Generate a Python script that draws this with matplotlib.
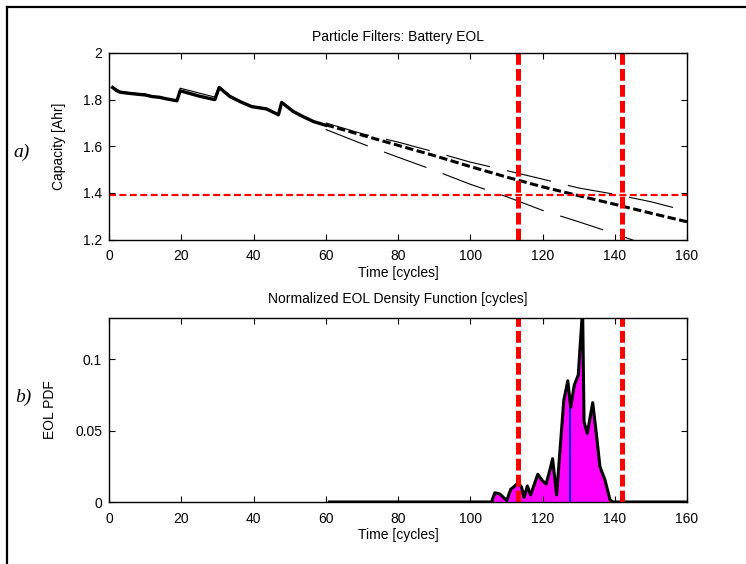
import numpy as np
import matplotlib
matplotlib.use('Agg')
import matplotlib.pyplot as plt
from matplotlib.lines import Line2D

plt.rcParams['font.family'] = ['Liberation Sans', 'DejaVu Sans']
plt.rcParams['font.size'] = 10
plt.rcParams['lines.scale_dashes'] = False

# Measured / filtered capacity history (cycles 1-60)
hist_cycles = [1, 2, 3, 5, 8, 10, 12, 14, 16, 18.8, 19.7, 22, 25, 27, 29.3, 30.5,
               33.5, 36.5, 39.5, 42, 43.6, 46.9, 47.8, 51, 54, 56.6, 60]
hist_cap = [1.852, 1.840, 1.832, 1.828, 1.823, 1.820, 1.813, 1.810, 1.803, 1.795,
            1.838, 1.828, 1.815, 1.808, 1.800, 1.852, 1.813, 1.790, 1.770, 1.764,
            1.760, 1.735, 1.788, 1.749, 1.725, 1.706, 1.690]
hist_thin = [1.856, 1.846, 1.836, 1.831, 1.826, 1.824, 1.815, 1.812, 1.805, 1.797,
             1.849, 1.840, 1.828, 1.820, 1.811, 1.856, 1.818, 1.793, 1.773, 1.767,
             1.763, 1.738, 1.792, 1.752, 1.727, 1.708, 1.692]

# Prediction (mean and bounds)
pred_cycles = [60, 70, 80, 90, 100, 110, 120, 130, 140, 150, 160]
pred_mean = [1.692, 1.648, 1.604, 1.560, 1.513, 1.468, 1.426, 1.388, 1.351, 1.313, 1.276]
pred_upper = [1.700, 1.654, 1.618, 1.576, 1.532, 1.496, 1.459, 1.421, 1.394, 1.362, 1.322]
pred_lower = [1.672, 1.611, 1.553, 1.497, 1.437, 1.384, 1.325, 1.276, 1.225, 1.170, 1.120]

eol_threshold = 1.39
eol_bounds = [113.1, 142.0]
eol_mean = 127.6

# EOL pdf
pdf_cycles = [61, 105.9, 106.8, 108.2, 110.1, 111.2, 112.1, 113.3, 114.2, 114.9,
              115.8, 116.7, 118.7, 119.8, 121.0, 122.1, 122.8, 123.9, 125.9, 127.0,
              127.8, 128.8, 129.9, 131.1, 131.5, 132.4, 133.9, 135.0, 135.9, 137.3,
              138.7, 139.5, 160]
pdf_vals = [0, 0, 0.0065, 0.0056, 0.001, 0.0089, 0.0107, 0.0135, 0.0103, 0.0033,
            0.0112, 0.0049, 0.0194, 0.0154, 0.0126, 0.0229, 0.0303, 0.0049, 0.0713, 0.0848,
            0.0662, 0.0818, 0.0888, 0.135, 0.0562, 0.048, 0.0695, 0.0457, 0.0247, 0.0154,
            0.0014, 0, 0]

fig = plt.figure(figsize=(7.46, 5.64), dpi=100)

# figure frame (left and top edges)
fig.add_artist(Line2D([7 / 746, 7 / 746], [0, 1 - 7 / 564], color='k', lw=1.6, transform=fig.transFigure))
fig.add_artist(Line2D([7 / 746, 1], [1 - 7 / 564, 1 - 7 / 564], color='k', lw=1.6, transform=fig.transFigure))

ax1 = fig.add_axes([109 / 746, 1 - 239.5 / 564, 578 / 746, 186.5 / 564])
ax2 = fig.add_axes([109 / 746, 1 - 502 / 564, 578 / 746, 184 / 564])


def style(ax):
    ax.tick_params(direction='in', top=True, right=True, length=4, width=0.8, labelsize=10)
    ax.tick_params(axis='x', pad=7)
    ax.tick_params(axis='y', pad=5)
    for s in ax.spines.values():
        s.set_linewidth(1.0)


# ---- top panel
ax1.plot(hist_cycles, hist_thin, color='k', lw=0.8)
ax1.plot(hist_cycles, hist_cap, color='k', lw=2.4)
ax1.plot(pred_cycles, pred_upper, color='k', lw=0.8, dashes=(32.5, 12.5))
ax1.plot(pred_cycles, pred_lower, color='k', lw=0.8, dashes=(32.5, 12.5))
ax1.plot(pred_cycles, pred_mean, color='k', lw=2.2, dashes=(6, 2.5))
ax1.axhline(eol_threshold, color='red', lw=1.6, dashes=(5, 2.5))
for xb in eol_bounds:
    ax1.axvline(xb, color='red', lw=3.6, dashes=(8.5, 3))
ax1.set_xlim(0, 160)
ax1.set_ylim(1.2, 2.0)
ax1.set_xticks(np.arange(0, 161, 20))
ax1.set_yticks([1.2, 1.4, 1.6, 1.8, 2.0])
ax1.set_yticklabels(['1.2', '1.4', '1.6', '1.8', '2'])
ax1.set_title('Particle Filters: Battery EOL', fontsize=10, pad=9)
ax1.set_xlabel('Time [cycles]', fontsize=10, labelpad=2)
ax1.set_ylabel('Capacity [Ahr]', fontsize=10, labelpad=12)
style(ax1)

# ---- bottom panel
ax2.fill_between(pdf_cycles, pdf_vals, color='#ff00ff', lw=0)
ax2.vlines(eol_mean, 0, np.interp(eol_mean, pdf_cycles, pdf_vals), color='#0000ff', lw=1.4)
ax2.plot(pdf_cycles, pdf_vals, color='k', lw=2.2)
for xb in eol_bounds:
    ax2.axvline(xb, color='red', lw=3.6, dashes=(8.5, 3))
ax2.set_xlim(0, 160)
ax2.set_ylim(0, 0.1287)
ax2.set_xticks(np.arange(0, 161, 20))
ax2.set_yticks([0, 0.05, 0.1])
ax2.set_yticklabels(['0', '0.05', '0.1'])
ax2.set_title('Normalized EOL Density Function [cycles]', fontsize=10, pad=11)
ax2.set_xlabel('Time [cycles]', fontsize=10, labelpad=2)
ax2.set_ylabel('EOL PDF', fontsize=10, labelpad=13)
style(ax2)

fig.text(13 / 746, 1 - 152 / 564, 'a)', family='Liberation Serif', style='italic', fontsize=14, va='center')
fig.text(15 / 746, 1 - 397 / 564, 'b)', family='Liberation Serif', style='italic', fontsize=14, va='center')

fig.savefig('out.png', dpi=100)
